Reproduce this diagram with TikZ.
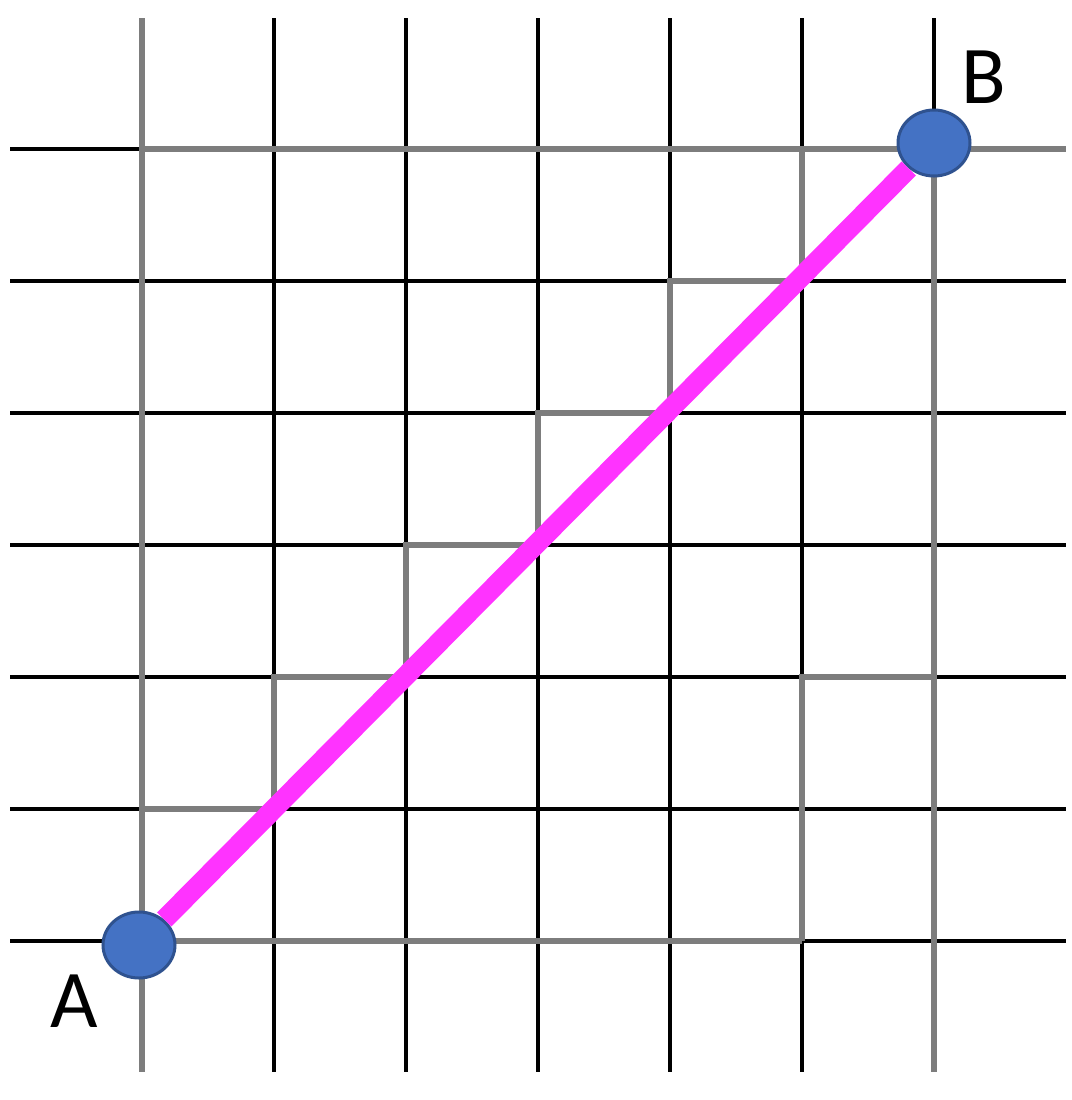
\documentclass[tikz,border=0pt]{standalone}
\usepackage{fontspec}
\setmainfont{Carlito}
\usetikzlibrary{shapes.geometric}
\begin{document}
\begin{tikzpicture}[x=0.5pt,y=-0.5pt,
  blackline/.style={draw=black,line width=2pt},
  grayline/.style={draw=gray!98!black,line width=3pt,line join=miter},
  pathline/.style={draw={rgb,255:red,255;green,51;blue,255},line width=10pt},
  endpoint/.style={ellipse,minimum width=36pt,minimum height=33pt,inner sep=0pt,
    fill={rgb,255:red,68;green,114;blue,196},draw={rgb,255:red,47;green,82;blue,143},line width=1.5pt},
  lbl/.style={font=\fontsize{41}{45}\selectfont,text=black,inner sep=0pt}]
\useasboundingbox (0,0) rectangle (1072,1100);
\fill[white] (0,0) rectangle (1072,1100);
% black grid
\foreach \x in {142,274,406,538,670,802,934}
  \draw[blackline] (\x,18) -- (\x,1072);
\foreach \y in {149,281,413,545,677,809,941}
  \draw[blackline] (10,\y) -- (1066,\y);
% gray overlays
\draw[grayline] (142,18) -- (142,1072);
\draw[grayline] (934,149) -- (934,1072);
\draw[grayline] (142,149) -- (1066,149);
\draw[grayline] (142,941) -- (802,941);
\draw[grayline] (142,809) -- (274,809) -- (274,677) -- (406,677) -- (406,545)
  -- (538,545) -- (538,413) -- (670,413) -- (670,281) -- (802,281) -- (802,149);
\draw[grayline] (802,941) -- (802,677) -- (934,677);
% endpoints
\node[endpoint] (A) at (139,945) {};
\node[endpoint] (B) at (934,143) {};
\draw[pathline] (A) -- (B);
\node[lbl] (la) at (74,1001) {A};
\node[lbl] (lb) at (984,77) {B};
\end{tikzpicture}
\end{document}
